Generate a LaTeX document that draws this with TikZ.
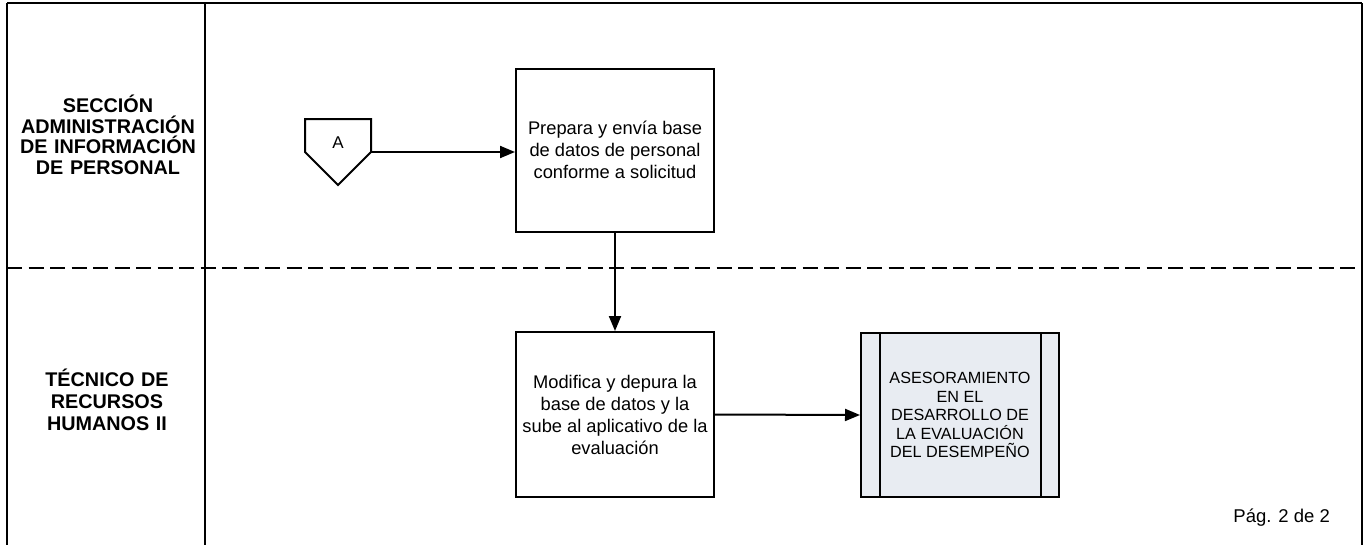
\documentclass[tikz,border=0pt]{standalone}
\usepackage{fontspec}
\setmainfont{Liberation Sans}
\usetikzlibrary{arrows.meta}
\definecolor{subfill}{RGB}{232,236,242}
\begin{document}
\begin{tikzpicture}[x=1pt,y=-1pt,
  frameline/.style={line width=2pt,black},
  lanelabel/.style={font=\fontsize{19.8}{20.5}\selectfont\bfseries,align=center,text width=196pt,inner sep=0pt},
  procbox/.style={draw,line width=2pt,minimum width=198pt,minimum height=163pt,align=center,inner sep=0pt,font=\fontsize{18.3}{22}\selectfont},
  subproc/.style={draw,line width=2pt,fill=subfill,minimum width=198pt,minimum height=164pt,align=center,inner sep=0pt,font=\fontsize{16.2}{18.5}\selectfont},
  flow/.style={line width=2pt,-{Triangle[length=15pt,width=12pt]}}]
\useasboundingbox (0,0) rectangle (1369,544);
% frame
\draw[frameline] (7,3) -- (1362,3);
\draw[frameline] (7,3) -- (7,546);
\draw[frameline] (1362,3) -- (1362,546);
\draw[frameline] (205,3) -- (205,546);
\draw[line width=1.6pt,dash pattern=on 15pt off 6.5pt] (7,268) -- (1362,268);
% lane labels
\node[lanelabel] (lane1) at (108,135) {SECCIÓN\\ADMINISTRACIÓN\\DE INFORMACIÓN\\DE PERSONAL};
\node[lanelabel,font=\fontsize{19.8}{22}\selectfont\bfseries] (lane2) at (107,400) {TÉCNICO DE\\RECURSOS\\HUMANOS II};
% off-page connector
\draw[line width=2pt,line join=miter] (305,119) -- (371,119) -- (371,152) -- (338,185) -- (305,152) -- cycle;
\node[font=\fontsize{17}{20}\selectfont,inner sep=0pt] (conA) at (338,143) {A};
\coordinate (conAout) at (371,152);
% process boxes
\node[procbox] (p1) at (615,150) {Prepara y envía base\\de datos de personal\\conforme a solicitud};
\node[procbox,minimum height=165pt] (p2) at (615,414.5) {Modifica y depura la\\base de datos y la\\sube al aplicativo de la\\evaluación};
\node[subproc] (s1) at (960,415) {ASESORAMIENTO\\EN EL\\DESARROLLO DE\\LA EVALUACIÓN\\DEL DESEMPEÑO};
\draw[line width=2pt] ([xshift=20pt]s1.north west) -- ([xshift=20pt]s1.south west);
\draw[line width=2pt] ([xshift=-19pt]s1.north east) -- ([xshift=-19pt]s1.south east);
% connectors
\draw[flow] (conAout) -- (conAout -| p1.west);
\draw[flow] (p1.south) -- (p2.north);
\draw[flow] (p2.east) -- (s1.west);
% page number
\node[font=\fontsize{18.5}{22}\selectfont,anchor=east,inner sep=0pt] (page) at (1330,518) {Pág. 2 de 2};
\end{tikzpicture}
\end{document}
